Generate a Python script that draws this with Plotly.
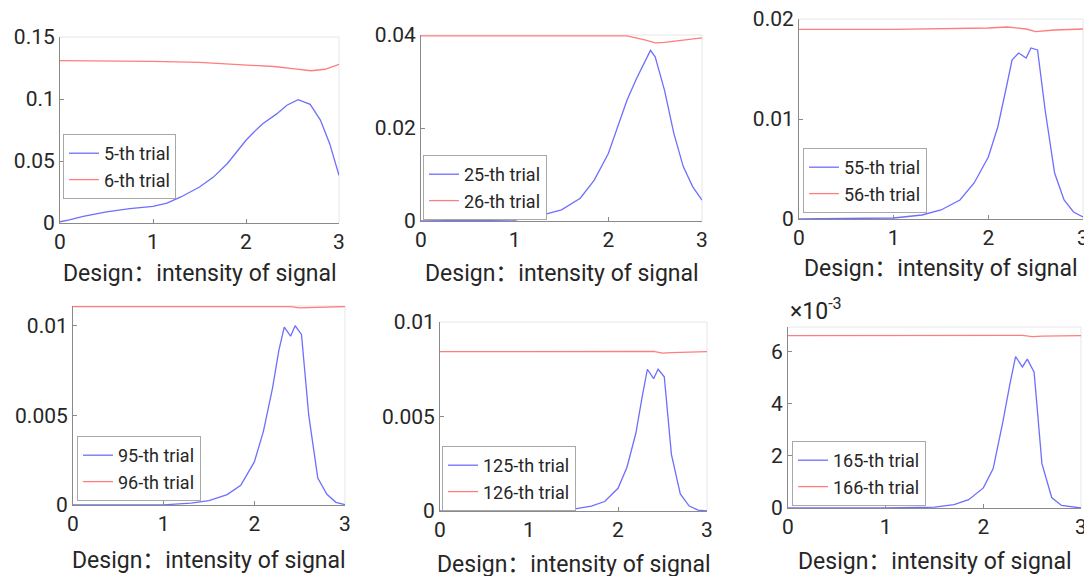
import plotly.graph_objects as go

W, H = 1092, 576
OFF = 8  # page body margin of the browser

# ---------------- data ----------------
# panel 1 (5-th / 6-th trial)
x_b1 = [0, 0.1, 0.25, 0.5, 0.75, 1.0, 1.15, 1.3, 1.5, 1.65, 1.8, 1.94, 2.0, 2.08, 2.18, 2.33, 2.44, 2.56, 2.69, 2.8, 2.9, 3.0]
y_b1 = [0.001, 0.0025, 0.0054, 0.009, 0.0116, 0.0134, 0.016, 0.021, 0.029, 0.037, 0.048, 0.061, 0.0667, 0.073, 0.080, 0.088, 0.095, 0.0995, 0.0957, 0.083, 0.064, 0.0384]
x_r1 = [0, 0.5, 1.0, 1.5, 2.0, 2.3, 2.5, 2.7, 2.85, 3.0]
y_r1 = [0.1309, 0.1308, 0.1304, 0.1295, 0.1277, 0.1262, 0.1245, 0.1228, 0.1240, 0.128]

# panel 2 (25-th / 26-th trial)
x_b2 = [0, 0.5, 1.0, 1.3, 1.5, 1.7, 1.85, 2.0, 2.1, 2.2, 2.3, 2.4, 2.45, 2.5, 2.6, 2.7, 2.8, 2.9, 3.0]
y_b2 = [0, 0.00003, 0.0002, 0.0013, 0.0024, 0.0049, 0.0088, 0.0145, 0.0203, 0.026, 0.0306, 0.0349, 0.0367, 0.0353, 0.0281, 0.0188, 0.0117, 0.0074, 0.0045]
x_r2 = [0, 1.0, 2.0, 2.2, 2.4, 2.5, 2.6, 2.8, 3.0]
y_r2 = [0.0398, 0.0398, 0.0399, 0.0398, 0.0389, 0.0383, 0.0384, 0.0389, 0.0394]

# panel 3 (55-th / 56-th trial)
x_b3 = [0, 0.5, 1.0, 1.3, 1.5, 1.7, 1.85, 2.0, 2.1, 2.2, 2.25, 2.32, 2.4, 2.45, 2.52, 2.6, 2.7, 2.8, 2.9, 3.0]
y_b3 = [0, 0.00002, 0.0001, 0.0004, 0.0009, 0.0019, 0.0036, 0.0062, 0.0092, 0.0136, 0.0159, 0.0166, 0.0161, 0.0171, 0.0169, 0.0109, 0.0046, 0.0019, 0.0007, 0.0002]
x_r3 = [0, 1.0, 2.0, 2.2, 2.4, 2.5, 2.7, 3.0]
y_r3 = [0.01897, 0.01897, 0.0191, 0.0192, 0.0190, 0.01873, 0.0189, 0.0190]

# panel 4 (95-th / 96-th trial)
x_b4 = [0, 0.5, 1.0, 1.3, 1.5, 1.7, 1.85, 2.0, 2.1, 2.2, 2.27, 2.33, 2.4, 2.45, 2.52, 2.6, 2.7, 2.8, 2.9, 3.0]
y_b4 = [0, 0, 0.00001, 0.0001, 0.00024, 0.00058, 0.0011, 0.0024, 0.0041, 0.0065, 0.0086, 0.0099, 0.0094, 0.00998, 0.0095, 0.0050, 0.0015, 0.0006, 0.00015, 0.00002]
x_r4 = [0, 1.0, 2.0, 2.4, 2.5, 2.6, 3.0]
y_r4 = [0.01104, 0.01104, 0.01105, 0.01104, 0.01098, 0.01100, 0.01105]

# panel 5 (125-th / 126-th trial)
x_b5 = [0, 0.5, 1.0, 1.5, 1.7, 1.85, 2.0, 2.1, 2.2, 2.27, 2.33, 2.4, 2.45, 2.52, 2.6, 2.7, 2.8, 2.9, 3.0]
y_b5 = [0, 0, 0.00001, 0.0001, 0.00026, 0.0005, 0.0012, 0.0023, 0.0041, 0.006, 0.0075, 0.0070, 0.0075, 0.0071, 0.0030, 0.0009, 0.00026, 0.00005, 0]
x_r5 = [0, 1.0, 2.0, 2.4, 2.5, 2.6, 3.0]
y_r5 = [0.00843, 0.00843, 0.00845, 0.00845, 0.00835, 0.00838, 0.00843]

# panel 6 (165-th / 166-th trial)
x_b6 = [0, 0.5, 1.0, 1.5, 1.7, 1.85, 2.0, 2.1, 2.2, 2.27, 2.33, 2.4, 2.45, 2.52, 2.6, 2.7, 2.8, 3.0]
y_b6 = [0, 0, 0, 0.00003, 0.00013, 0.00032, 0.00077, 0.0015, 0.0033, 0.0047, 0.0058, 0.0054, 0.0057, 0.0052, 0.0017, 0.0004, 0.0001, 0]
x_r6 = [0, 1.0, 2.0, 2.4, 2.5, 2.6, 3.0]
y_r6 = [0.0066, 0.0066, 0.0066, 0.00661, 0.00656, 0.00658, 0.0066]

names_blue = ["5-th trial", "25-th trial", "55-th trial", "95-th trial", "125-th trial", "165-th trial"]
names_red = ["6-th trial", "26-th trial", "56-th trial", "96-th trial", "126-th trial", "166-th trial"]

y_ranges = [[0, 0.15], [0, 0.04], [0, 0.02], [0, 0.01108], [0, 0.01], [0, 0.00693]]
y_tickvals = [[0, 0.05, 0.1, 0.15], [0, 0.02, 0.04], [0, 0.01, 0.02],
              [0, 0.005, 0.01], [0, 0.005, 0.01], [0, 0.002, 0.004, 0.006]]
y_ticktext = [["0", "0.05", "0.1", "0.15"], ["0", "0.02", "0.04"], ["0", "0.01", "0.02"],
              ["0", "0.005", "0.01"], ["0", "0.005", "0.01"], ["0", "2", "4", "6"]]
x_tickvals = [0, 1, 2, 3]
x_ticktext = ["0", "1", "2", "3"]
x_title = "Design：intensity of signal"
exponent_label = "×10<sup>-3</sup>"

blues = [(x_b1, y_b1), (x_b2, y_b2), (x_b3, y_b3), (x_b4, y_b4), (x_b5, y_b5), (x_b6, y_b6)]
reds = [(x_r1, y_r1), (x_r2, y_r2), (x_r3, y_r3), (x_r4, y_r4), (x_r5, y_r5), (x_r6, y_r6)]

# ---------------- layout (screen pixel boxes) ----------------
boxes = [(60, 339, 37, 223), (421, 702, 35, 221), (799, 1083, 19, 219),
         (73, 345, 306, 505), (440, 707, 322, 511), (788, 1081, 327, 508)]
legend_pos = [(63, 134), (423, 155), (803, 148), (77, 436), (442, 446), (792, 441)]
title_y = [273, 273, 268, 560, 564, 561]


def px(x):
    return (x - OFF) / W


def py(y):
    return 1 - (y - OFF) / H


FONT = "Roboto, 'Noto Sans CJK SC', sans-serif"
TXT = "#262626"
AX = "#8a8a8a"
BLUE = "rgb(110,110,255)"
RED = "rgb(255,125,125)"

fig = go.Figure()
layout = dict(
    width=W, height=H, margin=dict(l=0, r=0, t=0, b=0, autoexpand=False),
    paper_bgcolor="white", plot_bgcolor="white",
    font=dict(family=FONT, size=21, color=TXT),
    shapes=[], annotations=[],
)

for i in range(6):
    k = "" if i == 0 else str(i + 1)
    xa, ya = "x" + k, "y" + k
    lg = "legend" + k
    x0, x1, t, b = boxes[i]
    fig.add_trace(go.Scatter(x=blues[i][0], y=blues[i][1], mode="lines", name=names_blue[i],
                             line=dict(color=BLUE, width=1.3), xaxis=xa, yaxis=ya, legend=lg))
    fig.add_trace(go.Scatter(x=reds[i][0], y=reds[i][1], mode="lines", name=names_red[i],
                             line=dict(color=RED, width=1.3), xaxis=xa, yaxis=ya, legend=lg))
    layout["xaxis" + k] = dict(
        domain=[px(x0), px(x1)], anchor=ya, range=[0, 3], automargin=False,
        tickvals=x_tickvals, ticktext=x_ticktext, showgrid=False, zeroline=False,
        showline=True, linecolor=AX, linewidth=1, ticks="inside", ticklen=4, tickcolor=AX,
        tickfont=dict(size=21, color=TXT), ticklabeloverflow="allow",
    )
    layout["yaxis" + k] = dict(
        domain=[py(b), py(t)], anchor=xa, range=y_ranges[i], automargin=False,
        tickvals=y_tickvals[i], ticktext=y_ticktext[i], showgrid=False, zeroline=False,
        showline=True, linecolor=AX, linewidth=1, ticks="inside", ticklen=4, tickcolor=AX,
        tickfont=dict(size=21, color=TXT), ticklabeloverflow="allow",
    )
    # light box (top and right borders)
    layout["shapes"].append(dict(type="line", xref=xa + " domain", yref=ya + " domain", layer="below",
                                 x0=0, x1=1, y0=1, y1=1, line=dict(color="#e6e6e6", width=1)))
    layout["shapes"].append(dict(type="line", xref=xa + " domain", yref=ya + " domain", layer="below",
                                 x0=1, x1=1, y0=0, y1=1, line=dict(color="#e6e6e6", width=1)))
    # x-axis title
    layout["annotations"].append(dict(text=x_title, xref=xa + " domain", yref="paper",
                                      x=0.5, y=py(title_y[i]), xanchor="center", yanchor="middle",
                                      showarrow=False, font=dict(size=23, color=TXT)))
    lx, ly = legend_pos[i]
    layout[lg] = dict(x=px(lx), y=py(ly), xanchor="left", yanchor="top",
                      bgcolor="white", bordercolor="#a8a8a8", borderwidth=1,
                      font=dict(size=18, color=TXT), tracegroupgap=0,
                      itemwidth=30)

layout["annotations"].append(dict(text=exponent_label, xref="paper", yref="paper",
                                  x=px(788), y=py(327), xanchor="left", yanchor="bottom",
                                  showarrow=False, font=dict(size=23, color=TXT)))

fig.update_layout(**layout)
fig.write_html("out.html")
